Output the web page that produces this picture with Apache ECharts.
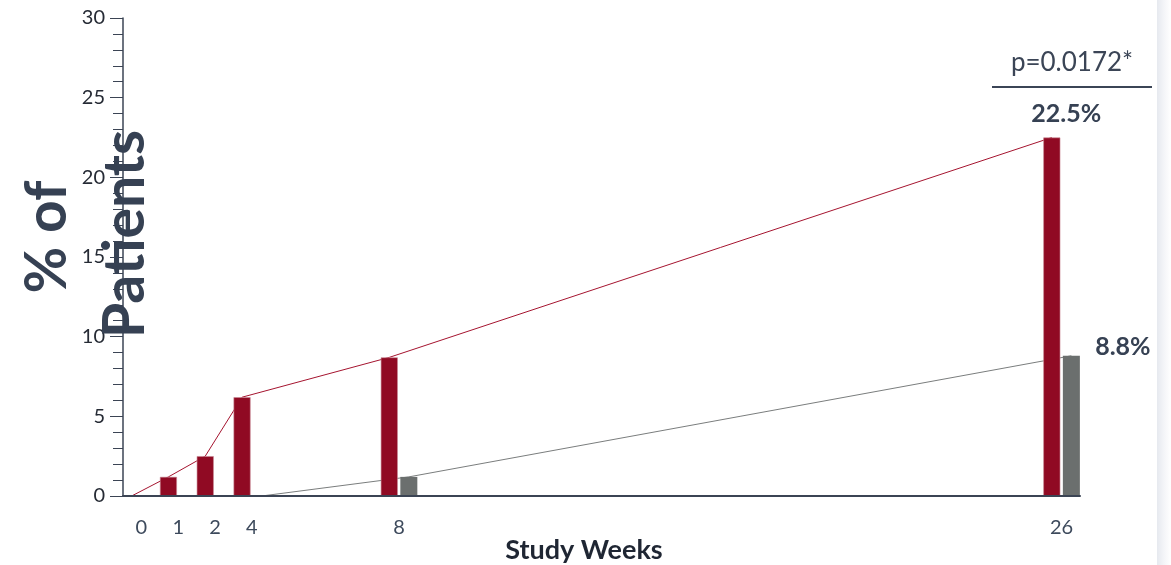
<!DOCTYPE html>
<html>
<head>
<meta charset="utf-8">
<script src="https://cdn.jsdelivr.net/npm/echarts@6/dist/echarts.min.js"></script>
<style>
  html, body { margin: 0; padding: 0; background: #ffffff; }
  #chart { width: 1171px; height: 565px; }
</style>
</head>
<body>
<div id="chart"></div>
<script>
// Study visit weeks and the share of patients (%) per arm
const weeks = [0, 1, 2, 4, 8, 26];
const treatedPct = [0, 1.2, 2.5, 6.2, 8.7, 22.5];
const controlPct = [0, 0, 0, 0, 1.2, 8.8];
const pValueText = 'p=0.0172*';
const yTitleLines = ['% of', 'Patients'];
const xTitle = 'Study Weeks';

// The week axis is drawn with one slot per week from week 4 on,
// while weeks 0, 1, 2 sit in the first three slots (week 3 is skipped).
const slotCount = 26;
const axisSlot = w => (w <= 2 ? w : w - 1);
const slotLabels = Array.from({ length: slotCount }, () => '');
weeks.forEach(w => { slotLabels[axisSlot(w)] = String(w); });

const RED = '#900a23';
const GREY = '#6b6f6e';
const INK = '#364153';
const FONT = 'Lato';

const BAR_W = 17;
const BAR_GAP = 0.15;
const halfStep = (BAR_W * (1 + BAR_GAP)) / 2;

const GRID = { left: 123, right: 91, top: 18, bottom: 69 };
const last = weeks.length - 1;

const valueLabel = (pos) => ({
  show: true, position: pos, align: 'center', verticalAlign: 'middle',
  formatter: p => p.value[1] + '%',
  fontFamily: FONT, fontWeight: 'bold', fontSize: 25, color: INK
});

const treatedBars = treatedPct.map((v, i) => {
  const item = { value: [axisSlot(weeks[i]), v] };
  if (i === last) item.label = valueLabel([23, -24]);
  return item;
});
const controlBars = controlPct.map((v, i) => {
  const item = { value: [axisSlot(weeks[i]), v] };
  if (i === last) item.label = valueLabel([60, -9]);
  return item;
});

const hiddenX = gi => ({
  type: 'category', gridIndex: gi, data: slotLabels, boundaryGap: true, show: false
});
const hiddenY = gi => ({ type: 'value', gridIndex: gi, min: 0, max: 30, show: false });

const gridAt = shift => ({
  left: GRID.left + shift, right: GRID.right - shift, top: GRID.top, bottom: GRID.bottom,
  outerBoundsMode: 'none', containLabel: false
});

const chart = echarts.init(document.getElementById('chart'), null, { renderer: 'canvas' });
chart.setOption({
  animation: false,
  backgroundColor: '#ffffff',
  grid: [
    gridAt(0),
    // line grids shifted so the trend lines pass through the bar centres
    gridAt(-halfStep),
    gridAt(halfStep)
  ],
  xAxis: [
    {
      type: 'category', gridIndex: 0, data: slotLabels, boundaryGap: true, z: 5,
      axisLine: { show: true, lineStyle: { color: '#3b4454', width: 2 } },
      axisTick: { show: false },
      axisLabel: { interval: 0, margin: 22, fontFamily: FONT, fontSize: 20, color: '#3d4a5c' }
    },
    hiddenX(1),
    hiddenX(2)
  ],
  yAxis: [
    {
      type: 'value', gridIndex: 0, min: 0, max: 30, interval: 5, z: 5,
      axisLine: { show: true, lineStyle: { color: '#3b4454', width: 1.5 } },
      axisTick: { show: true, length: 13, lineStyle: { color: '#3b4454', width: 1 } },
      minorTick: { show: true, splitNumber: 5, length: 10, lineStyle: { color: '#3b4454', width: 1 } },
      splitLine: { show: false },
      axisLabel: { margin: 18, fontFamily: FONT, fontSize: 20, color: '#262b35' }
    },
    hiddenY(1),
    hiddenY(2)
  ],
  series: [
    {
      name: 'Treated', type: 'bar', xAxisIndex: 0, yAxisIndex: 0, z: 3,
      barWidth: BAR_W, barGap: (BAR_GAP * 100) + '%',
      itemStyle: { color: RED, borderColor: '#c98a95', borderWidth: 0.6 },
      data: treatedBars
    },
    {
      name: 'Control', type: 'bar', xAxisIndex: 0, yAxisIndex: 0, z: 3,
      barWidth: BAR_W, barGap: (BAR_GAP * 100) + '%',
      itemStyle: { color: GREY },
      data: controlBars
    },
    {
      name: 'Treated trend', type: 'line', xAxisIndex: 1, yAxisIndex: 1, z: 2,
      symbol: 'none', lineStyle: { color: '#a5142f', width: 1 },
      data: treatedPct.map((v, i) => [axisSlot(weeks[i]), v])
    },
    {
      name: 'Control trend', type: 'line', xAxisIndex: 2, yAxisIndex: 2, z: 2,
      symbol: 'none', lineStyle: { color: '#7a7d7d', width: 1 },
      data: controlPct.map((v, i) => [axisSlot(weeks[i]), v])
    }
  ],
  graphic: [
    // soft page edge on the right
    {
      type: 'rect', left: 1157, top: 0, z: 0, silent: true,
      shape: { width: 14, height: 565 },
      style: {
        fill: new echarts.graphic.LinearGradient(0, 0, 1, 0, [
          { offset: 0, color: '#e6e9ef' }, { offset: 0.5, color: '#f4f5f8' }, { offset: 1, color: '#ffffff' }
        ])
      }
    },
    // x-axis title
    {
      type: 'text', z: 20, x: 584, y: 550,
      style: { text: xTitle, fontFamily: FONT, fontWeight: 'bold', fontSize: 27, fill: '#1f2633', align: 'center', verticalAlign: 'middle' }
    },
    // significance bracket above the week-26 bars
    {
      type: 'text', z: 20, x: 1072, y: 63,
      style: { text: pValueText, fontFamily: FONT, fontSize: 26, fill: '#3b4556', align: 'center', verticalAlign: 'middle' }
    },
    {
      type: 'line', z: 20,
      shape: { x1: 992, y1: 87, x2: 1152, y2: 87 },
      style: { stroke: '#3b4556', lineWidth: 2 }
    },
    // rotated two-line y-axis title
    {
      type: 'text', z: 30, x: 48, y: 237, rotation: Math.PI / 2,
      style: { text: yTitleLines[0], fontFamily: FONT, fontWeight: 'bold', fontSize: 57, fill: INK, align: 'center', verticalAlign: 'middle' }
    },
    {
      type: 'text', z: 30, x: 126, y: 234, rotation: Math.PI / 2,
      style: { text: yTitleLines[1], fontFamily: FONT, fontWeight: 'bold', fontSize: 57, fill: INK, align: 'center', verticalAlign: 'middle' }
    }
  ]
});
</script>
</body>
</html>
